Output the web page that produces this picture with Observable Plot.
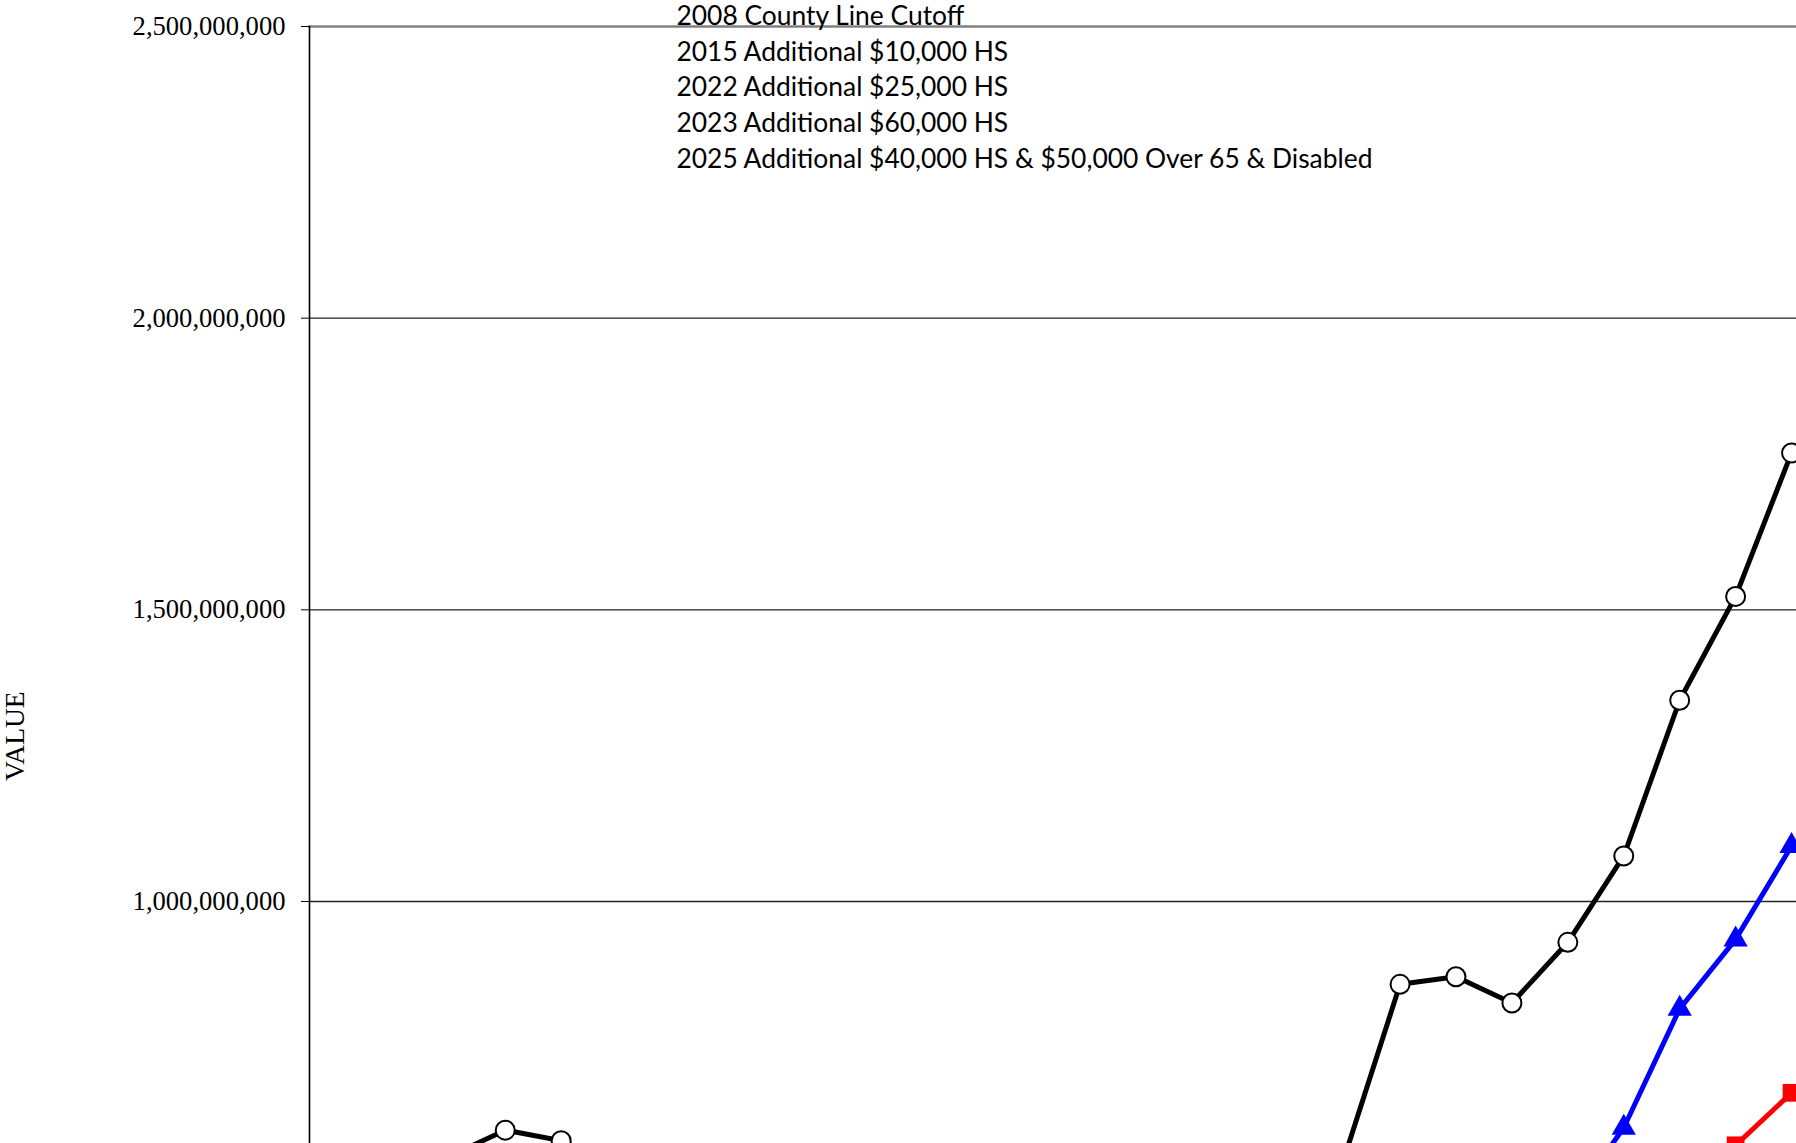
<!DOCTYPE html>
<html>
<head>
<meta charset="utf-8">
<script src="https://cdn.jsdelivr.net/npm/d3@7"></script>
<script src="https://cdn.jsdelivr.net/npm/@observablehq/plot@0.6"></script>
<style>
  html, body { margin: 0; padding: 0; background: #fff; }
  #chart svg { display: block; overflow: hidden; }
</style>
</head>
<body>
<div id="chart"></div>
<script>
// ---- data (points below the visible crop are estimates) ----
const blackYears  = [1999, 2000, 2001, 2002, 2003, 2004, 2005, 2006, 2007, 2008, 2009, 2010, 2011, 2012, 2013, 2014, 2015, 2016, 2017, 2018, 2019, 2020, 2021, 2022, 2023, 2024, 2025];
const blackValues = [500e6, 530e6, 563e6, 608e6, 590e6, 545e6, 520e6, 500e6, 480e6, 430e6, 420e6, 400e6, 390e6, 395e6, 400e6, 420e6, 380e6, 450e6, 560e6, 858e6, 871e6, 826e6, 930e6, 1078e6, 1345e6, 1523e6, 1769e6];

const blueYears  = [2021, 2022, 2023, 2024, 2025];
const blueValues = [477e6, 612e6, 816e6, 935e6, 1095e6];

const redYears  = [2024, 2025];
const redValues = [582e6, 672e6];

const yTicks = [1000000000, 1500000000, 2000000000, 2500000000];
const yLabel = "VALUE";
const notes = [
  "2008 County Line Cutoff",
  "2015 Additional $10,000 HS",
  "2022 Additional $25,000 HS",
  "2023 Additional $60,000 HS",
  "2025 Additional $40,000 HS & $50,000 Over 65 & Disabled"
];

const toRows = (years, values) => years.map((year, i) => ({year, value: values[i]}));
const black = toRows(blackYears, blackValues);
const blue = toRows(blueYears, blueValues);
const red = toRows(redYears, redValues);

const W = 1796, H = 1143, ML = 309, MT = 26;
const serif = "'Liberation Serif', 'Times New Roman', Times, serif";
const noteFont = "Lato, 'Open Sans', sans-serif";
const noteSize = 26.4;

const chart = Plot.plot({
  width: W,
  height: H,
  marginLeft: ML,
  marginTop: MT,
  marginRight: 0,
  marginBottom: 0,
  style: {background: "#fff", color: "#000", fontFamily: serif, fontSize: "26px"},
  x: {domain: [1998.5, 2025.5], range: [ML, 1819], axis: null},
  y: {domain: [0, 2500000000], range: [1484.3, MT], axis: null},
  marks: [
    Plot.ruleY(yTicks.slice(0, -1), {stroke: "#222", strokeWidth: 1.3}),
    Plot.frame({anchor: "top", stroke: "#808080", strokeWidth: 2.5}),
    Plot.axisY({
      ticks: yTicks,
      tickFormat: d3.format(","),
      tickSize: 8,
      tickPadding: 16,
      label: null,
      fontSize: 26.6,
      fontFamily: serif,
      stroke: "#000"
    }),
    Plot.frame({anchor: "left", stroke: "#000", strokeWidth: 1.6}),
    Plot.text([yLabel], {
      frameAnchor: "left", rotate: -90, dx: -(ML - 15), dy: 196,
      fontSize: 27.5, fontFamily: serif, fill: "#000"
    }),
    Plot.text([notes.join("\n")], {
      frameAnchor: "top-left", textAnchor: "start", lineAnchor: "top",
      lineHeight: 35.9 / noteSize, dx: 367, dy: -27.3,
      fontSize: noteSize, fontFamily: noteFont, fill: "#000"
    }),
    Plot.line(red, {x: "year", y: "value", stroke: "#ff0000", strokeWidth: 5}),
    Plot.dot(red, {x: "year", y: "value", symbol: "square", r: 10, fill: "#ff0000", stroke: "none"}),
    Plot.line(blue, {x: "year", y: "value", stroke: "#0000ff", strokeWidth: 5}),
    Plot.dot(blue, {x: "year", y: "value", symbol: "triangle", r: 9, fill: "#0000ff", stroke: "none"}),
    Plot.line(black, {x: "year", y: "value", stroke: "#000", strokeWidth: 5}),
    Plot.dot(black, {x: "year", y: "value", r: 9.5, fill: "#fff", stroke: "#000", strokeWidth: 2})
  ]
});
document.getElementById("chart").append(chart);
</script>
</body>
</html>
